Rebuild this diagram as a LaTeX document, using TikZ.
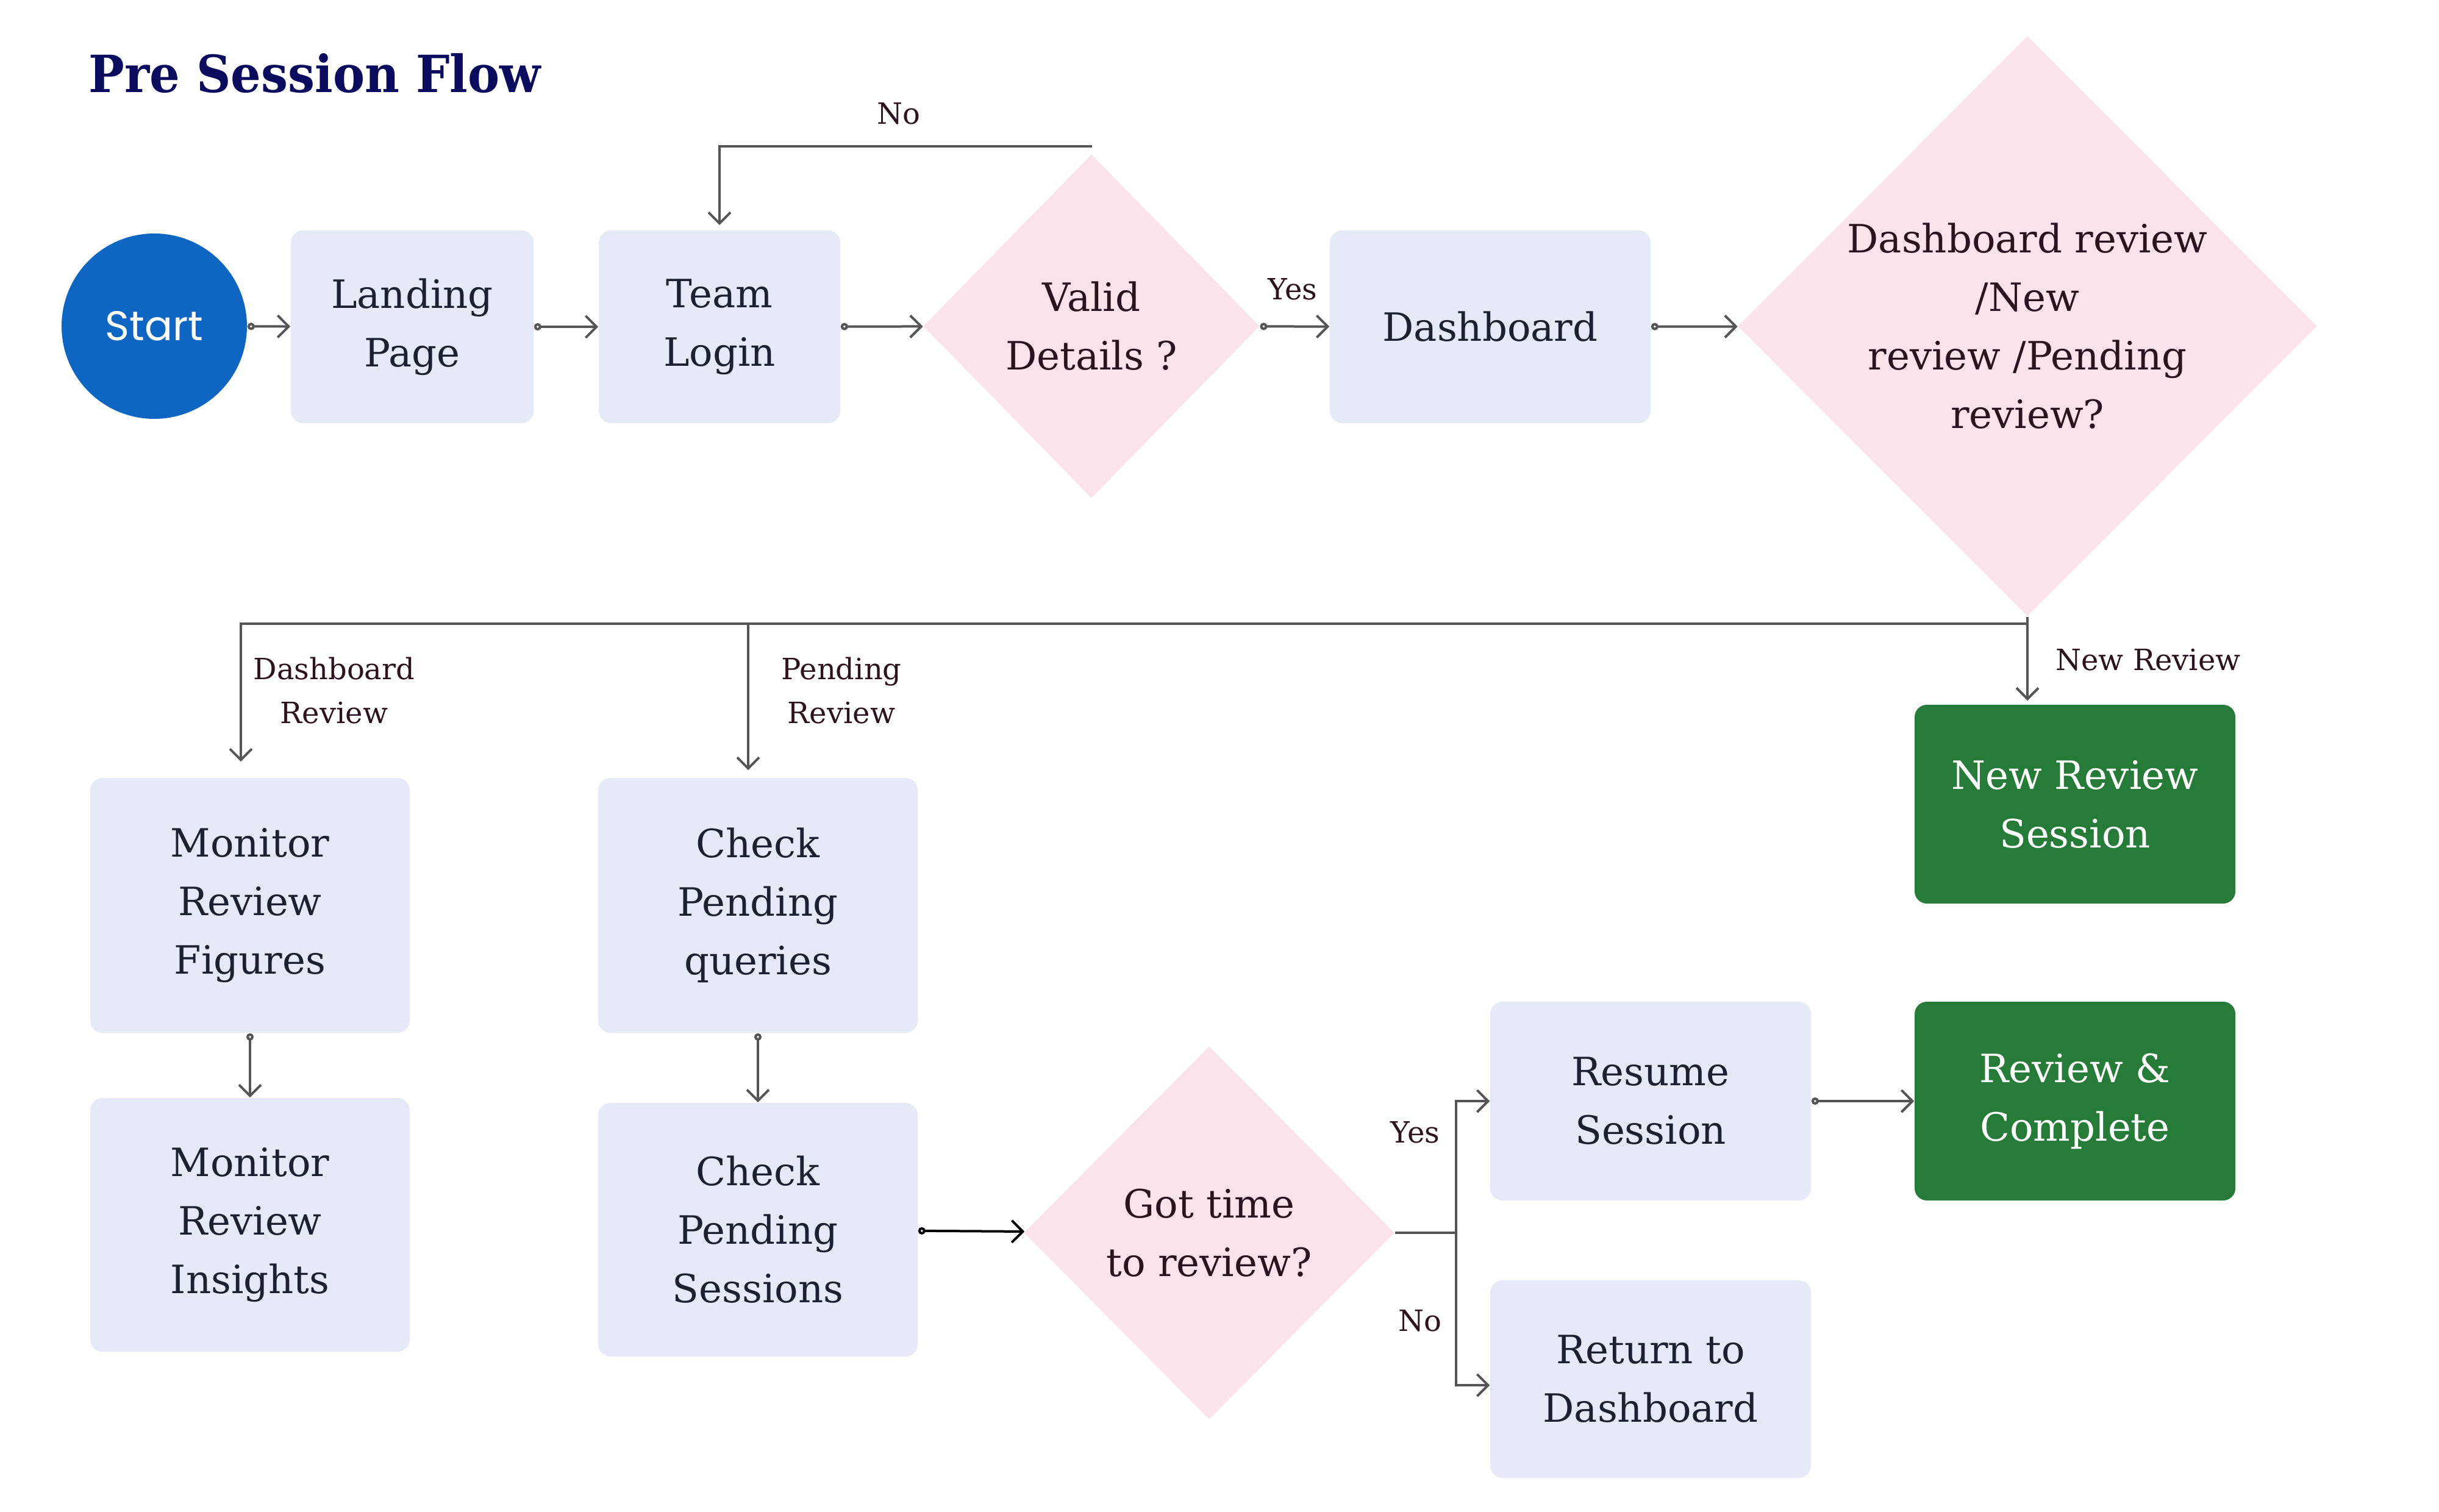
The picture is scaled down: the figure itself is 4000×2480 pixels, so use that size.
\documentclass[tikz,border=0pt]{standalone}
\usepackage{fontspec}
\setmainfont{DejaVu Serif}
\newfontfamily\pop{Poppins}
\usetikzlibrary{shapes.geometric,arrows.meta,calc}
\definecolor{boxfill}{HTML}{E6E9F7}
\definecolor{boxtext}{HTML}{1C2033}
\definecolor{pinkfill}{HTML}{FAE3EA}
\definecolor{dtext}{HTML}{2D1320}
\definecolor{greenfill}{HTML}{267B39}
\definecolor{startblue}{HTML}{0E66C2}
\definecolor{linecol}{HTML}{555555}
\definecolor{titlecol}{HTML}{0B0B5E}
\tikzset{
  box/.style={rectangle, rounded corners=5pt, fill=boxfill, text=boxtext, align=center, inner sep=0pt, font=\fontsize{16}{24}\selectfont},
  gbox/.style={box, fill=greenfill, text=white},
  dia/.style={diamond, fill=pinkfill, inner sep=0pt, aspect=1},
  dtxt/.style={text=dtext, align=center, font=\fontsize{16}{24}\selectfont},
  lbl/.style={text=dtext, align=center, font=\fontsize{12}{18}\selectfont},
  wire/.style={draw=linecol, line width=1pt},
  arr/.style={wire, -{Straight Barb[length=4.5pt,width=9pt]}},
  tarr/.style={wire, {Circle[open,length=3pt,width=3pt]}-{Straight Barb[length=4.5pt,width=9pt]}},
}
\begin{document}
\begin{tikzpicture}[x=0.25pt,y=-0.25pt]
\useasboundingbox (0,0) rectangle (4000,2480);
\node[anchor=west, text=titlecol, inner xsep=0pt, font=\fontsize{21}{26}\selectfont\bfseries] (title) at (145,120) {\scalebox{0.93}[1]{Pre Session Flow}};

% top row
\node[circle, fill=startblue, minimum size=76pt, inner sep=0pt, text=white, font=\pop\fontsize{17}{20}\selectfont] (start) at (253,535) {Start};
\node[box, minimum width=99.5pt, minimum height=79pt] (lp) at (676,536) {Landing\\Page};
\node[box, minimum width=99pt, minimum height=79pt] (tl) at (1180,536) {Team\\Login};
\node[dia, minimum width=138pt, minimum height=141pt] (vd) at (1790,535) {};
\node[dtxt] (vdt) at (vd.center) {Valid\\Details ?};
\node[box, minimum width=131.5pt, minimum height=79pt] (db) at (2444,536) {Dashboard};
\node[dia, minimum width=237.5pt, minimum height=238pt] (bd) at (3325,535) {};
\node[dtxt] (bdt) at (bd.center) {Dashboard review\\/New\\review /Pending\\review?};

% lower left
\node[box, minimum width=131pt, minimum height=104.5pt] (mf) at (410,1485) {Monitor\\Review\\Figures};
\node[box, minimum width=131pt, minimum height=104pt] (mi) at (410,2009) {Monitor\\Review\\Insights};
\node[box, minimum width=131pt, minimum height=104.5pt] (cq) at (1243,1485) {Check\\Pending\\queries};
\node[box, minimum width=131pt, minimum height=104pt] (cs) at (1243,2017) {Check\\Pending\\Sessions};
\node[dia, minimum width=152pt, minimum height=153pt] (gt) at (1983,2022) {};
\node[dtxt] (gtt) at (gt.center) {Got time\\to review?};
\node[box, minimum width=131.5pt, minimum height=81.5pt] (rs) at (2707,1806) {Resume\\Session};
\node[box, minimum width=131.5pt, minimum height=81pt] (rd) at (2707,2262) {Return to\\Dashboard};
\node[gbox, minimum width=131.5pt, minimum height=81.5pt] (nr) at (3403,1319) {New Review\\Session};
\node[gbox, minimum width=131.5pt, minimum height=81.5pt] (rc) at (3403,1806) {Review \&\\Complete};

% coordinates
\coordinate (vn) at (1791,240);
\coordinate (hb) at (3325,1023);
\coordinate (gj) at (2388,2022);

% top connectors
\draw[tarr] (start) -- (lp);
\draw[tarr] (lp) -- (tl);
\draw[tarr] (tl) -- (vd);
\draw[tarr] (vd) -- (db);
\draw[tarr] (db) -- (bd);
\draw[arr] (vn) -| ([yshift=2pt]tl.north);
\node[lbl] (lno) at (1474,186) {No};
\node[lbl] (lyes) at (2120,474) {Yes};

% branch bus
\draw[wire] (bd.south) -- (hb);
\draw[arr] (hb) -| ([xshift=-3.75pt,yshift=6.5pt]mf.north);
\draw[arr] (hb) -| ([xshift=-4pt,yshift=3pt]cq.north);
\draw[arr] (hb) -- ([xshift=-19.5pt,yshift=1.5pt]nr.north);
\node[lbl] (ldr) at (548,1133) {Dashboard\\Review};
\node[lbl] (lpr) at (1380,1133) {Pending\\Review};
\node[lbl] (lnr) at (3523,1082) {New Review};

% lower connectors
\draw[tarr] (mf) -- (mi);
\draw[tarr] (cq) -- (cs);
\draw[tarr, draw=black] (cs) -- (gt);
\draw[wire] (gt.east) -- (gj);
\draw[arr] (gj) |- (rs.west);
\draw[arr] (gj) |- ([yshift=-2.5pt]rd.west);
\draw[tarr] (rs) -- (rc);
\node[lbl] (lyes2) at (2321,1857) {Yes};
\node[lbl] (lno2) at (2329,2166) {No};
\end{tikzpicture}
\end{document}
